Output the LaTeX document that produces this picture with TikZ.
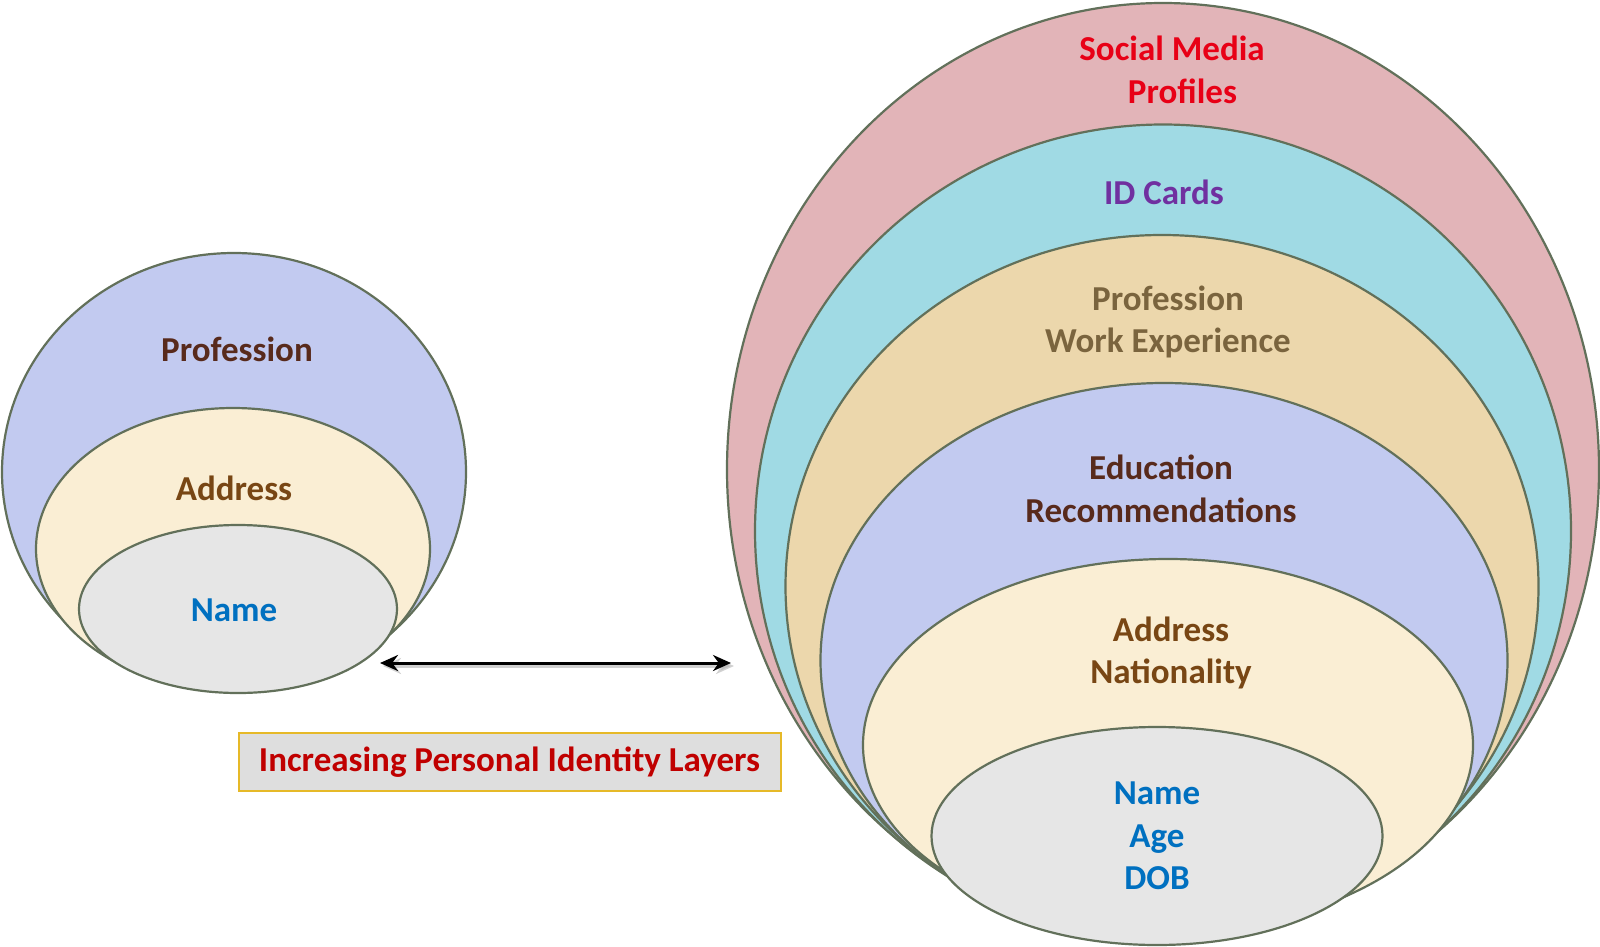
\documentclass[tikz,border=0pt]{standalone}
\usepackage{fontspec}
\setmainfont{Carlito}
\usetikzlibrary{arrows.meta}
\definecolor{bordc}{RGB}{98,112,90}
\definecolor{pinkf}{RGB}{226,180,184}
\definecolor{cyanf}{RGB}{160,218,228}
\definecolor{tanf}{RGB}{236,215,172}
\definecolor{lavf}{RGB}{194,202,240}
\definecolor{creamf}{RGB}{250,238,212}
\definecolor{greyf}{RGB}{230,230,230}
\definecolor{tred}{RGB}{232,0,22}
\definecolor{tpurple}{RGB}{112,48,160}
\definecolor{tolive}{RGB}{122,100,62}
\definecolor{tdbrown}{RGB}{88,42,28}
\definecolor{tbrown}{RGB}{120,70,20}
\definecolor{tblue}{RGB}{0,112,192}
\definecolor{tdred}{RGB}{192,0,0}
\definecolor{goldb}{RGB}{230,185,40}
\definecolor{marble}{RGB}{222,222,222}
\tikzset{
  layer/.style={draw=bordc, line width=1.1pt},
  lbl/.style={font=\bfseries\fontsize{17.5}{21.3}\selectfont, align=center, inner sep=0pt},
  arr/.style={line width=1.5pt, {Stealth[length=9pt,width=8pt]}-{Stealth[length=9pt,width=8pt]}},
}
\begin{document}
\begin{tikzpicture}[x=0.5pt,y=-0.5pt]
\useasboundingbox (0,0) rectangle (1600,947);
% left group
\path[layer, fill=lavf] (234,472) ellipse [x radius=232, y radius=219];
\path[layer, fill=creamf] (233,549) ellipse [x radius=197, y radius=141];
\path[layer, fill=greyf] (238,609) ellipse [x radius=159, y radius=84];
\node[lbl, text=tdbrown] (lprof) at (237,349) {Profession};
\node[lbl, text=tbrown] (laddr) at (234,488) {Address};
\node[lbl, text=tblue] (lname) at (234,610) {Name};
% right group
\path[layer, fill=pinkf] (1163,469.5) ellipse [x radius=436, y radius=466.5];
\path[layer, fill=cyanf] (1163,531) ellipse [x radius=408, y radius=406.5];
\path[layer, fill=tanf] (1162,586.5) ellipse [x radius=376.5, y radius=351.5];
\path[layer, fill=lavf] (1164,660.5) ellipse [x radius=343.5, y radius=277.5];
\path[layer, fill=creamf] (1168,745) ellipse [x radius=305, y radius=186];
\path[layer, fill=greyf] (1157,836) ellipse [x radius=225.5, y radius=109];
\node[lbl, text=tred] (social) at (1172,70) {Social Media\\\hspace*{0.6em}Profiles};
\node[lbl, text=tpurple] (idc) at (1164,192) {ID Cards};
\node[lbl, text=tolive] (rprof) at (1168,322) {Profession\\Work Experience};
\node[lbl, text=tdbrown] (redu) at (1161,489) {Education\\Recommendations};
\node[lbl, text=tbrown] (raddr) at (1171,653) {Address\\Nationality};
\node[lbl, text=tblue] (rname) at (1157,836) {Name\\Age\\DOB};
% arrow
\coordinate (al) at (380,663);
\coordinate (ar) at (731,663);
\draw[arr, draw=black!30, fill=black!30, opacity=0.6, transform canvas={xshift=1.5pt,yshift=-1.5pt}] (al) -- (ar);
\draw[arr] (al) -- (ar);
% label box
\node[draw=goldb, line width=1pt, fill=marble, minimum width=271pt, minimum height=29pt, inner sep=0pt,
      font=\bfseries\fontsize{17.5}{21}\selectfont, text=tdred] (title) at (509.5,762) {Increasing Personal Identity Layers};
\end{tikzpicture}
\end{document}
